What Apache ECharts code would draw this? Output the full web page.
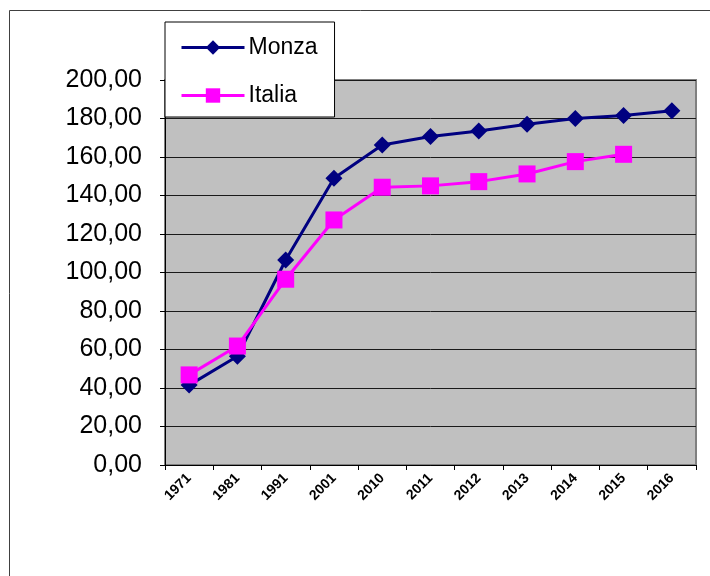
<!DOCTYPE html>
<html><head><meta charset="utf-8">
<script src="https://cdn.jsdelivr.net/npm/echarts@6/dist/echarts.min.js"></script>
<style>html,body{margin:0;padding:0;background:#fff}#c{width:710px;height:576px}</style>
</head><body><div id="c"></div>
<script>
const categories = ['1971','1981','1991','2001','2010','2011','2012','2013','2014','2015','2016'];
const monza = [41.5, 56.5, 106.5, 149, 166.2, 170.6, 173.5, 177, 180, 181.5, 184];
const italia = [46.8, 61.8, 96.5, 127.3, 144.3, 145, 147.2, 151.2, 157.6, 161.4, null];
const seriesNames = ['Monza', 'Italia'];

const chart = echarts.init(document.getElementById('c'), null, {renderer: 'canvas'});
const fontFam = '"Liberation Sans", Arial, sans-serif';
chart.setOption({
  animation: false,
  backgroundColor: '#fff',
  graphic: [{
    type: 'rect', z: -10, silent: true,
    shape: {x: 9.5, y: 10.5, width: 800, height: 700},
    style: {fill: 'none', stroke: '#404040', lineWidth: 1}
  }],
  grid: {left: 165, right: 14, top: 80, bottom: 111, show: true,
    backgroundColor: '#c0c0c0', borderColor: '#808080', borderWidth: 2},
  legend: {
    orient: 'vertical', left: 165, top: 22,
    backgroundColor: '#fff', borderColor: '#000', borderWidth: 1,
    padding: [14, 17, 10, 15], itemGap: 25,
    itemWidth: 63, itemHeight: 18,
    lineStyle: {width: 3},
    textStyle: {fontFamily: fontFam, fontSize: 23, color: '#000', padding: [0,0,0,-1]},
    data: seriesNames
  },
  xAxis: {
    type: 'category', data: categories, boundaryGap: true,
    axisLine: {lineStyle: {color: '#000', width: 1}},
    axisTick: {show: true, length: 5, lineStyle: {color: '#000'}},
    axisLabel: {rotate: 45, margin: 11, fontFamily: fontFam, fontSize: 14, fontWeight: 'bold', color: '#000'}
  },
  yAxis: {
    type: 'value', min: 0, max: 200, interval: 20,
    axisLine: {show: true, lineStyle: {color: '#000', width: 1}},
    axisTick: {show: true, length: 5, lineStyle: {color: '#000'}},
    splitLine: {show: true, lineStyle: {color: '#1a1a1a', width: 1}},
    axisLabel: {margin: 23, fontFamily: fontFam, fontSize: 25, color: '#000',
      formatter: v => v.toFixed(2).replace('.', ',')}
  },
  series: [
    {name: seriesNames[0], type: 'line', data: monza, symbol: 'diamond', symbolSize: 17,
      lineStyle: {color: '#000080', width: 3}, itemStyle: {color: '#000080'}, z: 2},
    {name: seriesNames[1], type: 'line', data: italia, symbol: 'rect', symbolSize: 17,
      lineStyle: {color: '#ff00ff', width: 3}, itemStyle: {color: '#ff00ff'}, z: 3}
  ]
});
</script></body></html>
